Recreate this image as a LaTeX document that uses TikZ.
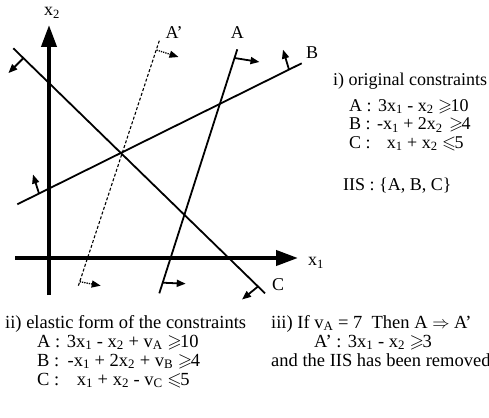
\documentclass[tikz,border=0pt]{standalone}
\usepackage{amssymb}
\usepackage{fontspec}
\setmainfont{Liberation Serif}
\usetikzlibrary{arrows.meta}
\newcommand{\xs}[1]{x\textsubscript{#1}}
\newcommand{\vs}[1]{v\textsubscript{#1}}
\newcommand{\geqs}{$\geqslant$\hspace{-1.5pt}}
\newcommand{\leqs}{$\leqslant$\hspace{-1.5pt}}
\newcommand{\topstrut}{\rule{0pt}{13.5pt}}
\begin{document}
\begin{tikzpicture}[x=1pt,y=-1pt,
  axis/.style={line width=4pt,-{Triangle[length=22pt,width=15pt]}},
  cline/.style={line width=1.8pt},
  dline/.style={line width=1.1pt,densely dashed},
  marker/.style={line width=1.8pt,-{Triangle[length=9pt,width=7pt]}},
  dmarker/.style={line width=1.3pt,densely dotted,-{Triangle[length=9pt,width=7pt]}},
  lbl/.style={font=\fontsize{18}{20}\selectfont,inner sep=0pt},
  txt/.style={font=\fontsize{18}{20}\selectfont,inner sep=0pt,anchor=base west},
  blk/.style={inner sep=0pt,anchor=north west,align=left}]
\useasboundingbox (0,0) rectangle (489,417);
\clip (0,0) rectangle (489,417);
% axes
\coordinate (x1s) at (15,258); \coordinate (x1e) at (298,258);
\coordinate (x2s) at (49,295); \coordinate (x2e) at (49,25);
\draw[axis] (x1s) -- (x1e);
\draw[axis] (x2s) -- (x2e);
\node[lbl] (lx2) at (52,13) {\xs2};
\node[lbl] (lx1) at (316,263) {\xs1};
% line C
\coordinate (Ct) at (13.3,48.3); \coordinate (Cb) at (265,293.3);
\draw[cline] (Ct) -- (Cb);
\coordinate (Cm1) at (23.4,58.1); \coordinate (Cm2) at (258,286.5);
\draw[marker] (Cm1) -- ++(-15,15);
\draw[marker] (Cm2) -- ++(-16,13);
\node[lbl] (lC) at (278,285) {C};
% line B
\coordinate (Bl) at (17.3,204.3); \coordinate (Br) at (301.7,63.3);
\draw[cline] (Bl) -- (Br);
\coordinate (Bm1) at (39,193.5); \coordinate (Bm2) at (289,69.6);
\draw[marker] (Bm1) -- ++(-6,-19);
\draw[marker] (Bm2) -- ++(-6,-20);
\node[lbl] (lB) at (312,53) {B};
% line A
\coordinate (At) at (237.3,49.3); \coordinate (Ab) at (159.3,293.3);
\draw[cline] (At) -- (Ab);
\coordinate (Am1) at (234.5,58); \coordinate (Am2) at (162.7,282.7);
\draw[marker] (Am1) -- ++(25,4);
\draw[marker] (Am2) -- ++(23,1);
\node[lbl] (lA) at (237.3,33) {A};
% line A'
\coordinate (Pt) at (159.3,40.7); \coordinate (Pb) at (78.3,286);
\draw[dline] (Pt) -- (Pb);
\coordinate (Pm1) at (156.5,50); \coordinate (Pm2) at (79.7,281.7);
\draw[dmarker] (Pm1) -- ++(22,7);
\draw[dmarker] (Pm2) -- ++(21,4);
\node[lbl] (lP) at (174,33) {A'};
% right text block
\node[txt] (t1) at (333,85) {i) original constraints};
\node[blk,font=\fontsize{18}{18.5}\selectfont] (t1abc) at (349,97.5)
  {\topstrut A :\hspace{0.35em}3\xs1 - \xs2 \geqs10\\
   B :\hspace{0.35em}-\xs1 + 2\xs2 \hspace{0.1em}\geqs4\\
   C :\hspace{0.9em}\xs1 + \xs2 \leqs5};
\node[txt] (t1d) at (343,190) {IIS : \{A, B, C\}};
% bottom left block
\node[blk,font=\fontsize{18.5}{19}\selectfont] (t2) at (5,314.5)
  {\topstrut ii) elastic form of the constraints\\
   \hspace*{32pt}A :\hspace{0.35em}3\xs1 - \xs2 + \vs{A} \geqs10\\
   \hspace*{32pt}B :\hspace{0.45em}-\xs1 + 2\xs2 + \vs{B} \geqs4\\
   \hspace*{32pt}C :\hspace{0.95em}\xs1 + \xs2 - \vs{C} \leqs5};
% bottom right block
\node[blk,font=\fontsize{18.5}{19}\selectfont] (t3) at (271,314.5)
  {\topstrut iii) If \vs{A} = 7\hspace{0.5em}Then A $\Rightarrow$ A'\\
   \hspace*{43pt}A' :\hspace{0.35em}3\xs1 - \xs2 \geqs3\\
   and the IIS has been removed};
\end{tikzpicture}
\end{document}
